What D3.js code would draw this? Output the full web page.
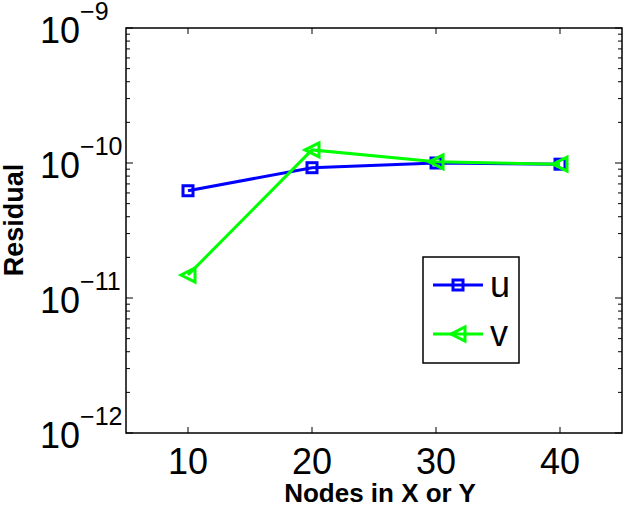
<!DOCTYPE html>
<html><head><meta charset="utf-8">
<script src="https://cdn.jsdelivr.net/npm/d3@7"></script>
<style>body{margin:0;background:#fff}svg{display:block}text{font-family:"Liberation Sans",Arial,sans-serif}</style>
</head><body><svg id="c" width="627" height="509"></svg>
<script>
const nodes = [10, 20, 30, 40];
const uValues = [6.23e-11, 9.23e-11, 1.0e-10, 9.8e-11];
const vValues = [1.48e-11, 1.25e-10, 1.02e-10, 9.8e-11];
const xTicks = [10, 20, 30, 40];
const yExps = [-9, -10, -11, -12];
const seriesNames = ["u", "v"];

const svg = d3.select("#c");
const L = 126, R = 622, T = 28, B = 433;
const x = d3.scaleLinear().domain([5, 45]).range([L, R]);
const y = d3.scaleLog().domain([1e-12, 1e-9]).range([B, T]);

// minor ticks
const minor = [];
for (let e = -12; e < -9; e++) for (let m = 2; m <= 9; m++) minor.push(m * Math.pow(10, e));
const g = svg.append("g").attr("stroke", "#000").attr("stroke-width", 1);
minor.forEach(v => {
  g.append("line").attr("x1", L).attr("x2", L + 4).attr("y1", y(v)).attr("y2", y(v));
  g.append("line").attr("x1", R).attr("x2", R - 4).attr("y1", y(v)).attr("y2", y(v));
});
yExps.forEach(e => {
  const v = Math.pow(10, e);
  g.append("line").attr("x1", L).attr("x2", L + 7).attr("y1", y(v)).attr("y2", y(v));
  g.append("line").attr("x1", R).attr("x2", R - 7).attr("y1", y(v)).attr("y2", y(v));
});
xTicks.forEach(t => {
  g.append("line").attr("x1", x(t)).attr("x2", x(t)).attr("y1", B).attr("y2", B - 6);
  g.append("line").attr("x1", x(t)).attr("x2", x(t)).attr("y1", T).attr("y2", T + 6);
});
svg.append("rect").attr("x", L).attr("y", T).attr("width", R - L).attr("height", B - T)
  .attr("fill", "none").attr("stroke", "#000").attr("stroke-width", 1.5);

// x tick labels
xTicks.forEach(t => {
  svg.append("text").attr("x", x(t)).attr("y", 474).attr("text-anchor", "middle")
    .attr("font-size", 36).text(t);
});
// y tick labels
yExps.forEach(e => {
  const yy = y(Math.pow(10, e));
  const t = svg.append("text").attr("x", 40).attr("y", yy + 14.5).attr("font-size", 36);
  t.append("tspan").text("10");
  t.append("tspan").attr("dy", -22.5).attr("font-size", 25).text("\u2212" + (-e));
});

// axis titles
svg.append("text").attr("x", 380).attr("y", 502).attr("text-anchor", "middle")
  .attr("font-size", 26).attr("font-weight", "bold").text("Nodes in X or Y");
svg.append("text").attr("transform", "translate(23,220) rotate(-90)").attr("text-anchor", "middle")
  .attr("font-size", 27).attr("font-weight", "bold").text("Residual");

// lines
const line = d3.line().x(d => x(d[0])).y(d => y(d[1]));
const uData = nodes.map((n, i) => [n, uValues[i]]);
const vData = nodes.map((n, i) => [n, vValues[i]]);
const blue = "#0000ff", green = "#00ff00";

function square(sel, cx, cy) {
  sel.append("rect").attr("x", cx - 5).attr("y", cy - 5).attr("width", 10).attr("height", 10)
    .attr("fill", "none").attr("stroke", blue).attr("stroke-width", 3);
}
function tri(sel, cx, cy) {
  const s = 7;
  sel.append("path").attr("d", `M${cx - s},${cy} L${cx + s},${cy - s} L${cx + s},${cy + s} Z`)
    .attr("fill", "none").attr("stroke", green).attr("stroke-width", 3);
}

svg.append("path").datum(uData).attr("d", line).attr("fill", "none").attr("stroke", blue).attr("stroke-width", 3);
uData.forEach(d => square(svg, x(d[0]), y(d[1])));
svg.append("path").datum(vData).attr("d", line).attr("fill", "none").attr("stroke", green).attr("stroke-width", 3);
vData.forEach(d => tri(svg, x(d[0]), y(d[1])));

// legend
svg.append("rect").attr("x", 423).attr("y", 257).attr("width", 96).attr("height", 106)
  .attr("fill", "#fff").attr("stroke", "#000").attr("stroke-width", 1.5);
const ly = [285, 334];
svg.append("line").attr("x1", 433).attr("x2", 483).attr("y1", ly[0]).attr("y2", ly[0]).attr("stroke", blue).attr("stroke-width", 3);
square(svg, 458, ly[0]);
svg.append("line").attr("x1", 433).attr("x2", 483).attr("y1", ly[1]).attr("y2", ly[1]).attr("stroke", green).attr("stroke-width", 3);
tri(svg, 458, ly[1]);
seriesNames.forEach((n, i) => {
  svg.append("text").attr("x", 490).attr("y", ly[i] + 12).attr("font-size", 36).text(n);
});
</script></body></html>
